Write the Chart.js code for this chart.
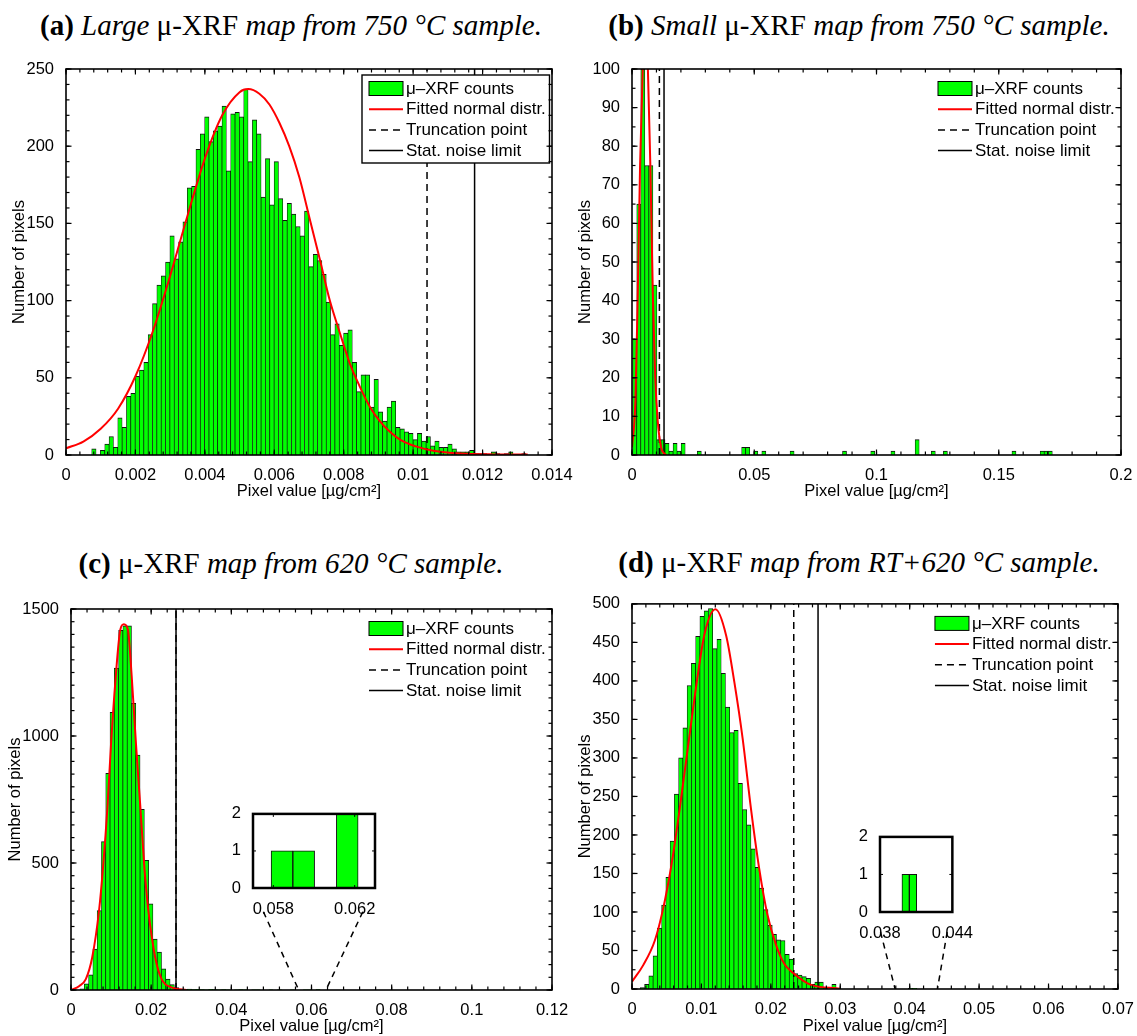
<!DOCTYPE html>
<html>
<head>
<meta charset="utf-8">
<script src="https://cdn.jsdelivr.net/npm/chart.js@4.4.1/dist/chart.umd.min.js"></script>
<style>
  body { margin: 0; background: #fff; }
  #fig { position: relative; width: 1137px; height: 1036px; overflow: hidden; background: #fff; }
  #fig canvas { position: absolute; }
  .ttl { position: absolute; width: 600px; text-align: center; white-space: nowrap; color: #000;
         font: 29px/29px "Liberation Serif", "Times New Roman", serif; }
</style>
</head>
<body>
<div id="fig">
  <div class="ttl" style="left:-9px;top:10.7px"><b>(a)</b> <i>Large</i> μ-XRF <i>map from 750 °C sample.</i></div>
  <div class="ttl" style="left:559px;top:10.7px"><b>(b)</b> <i>Small</i> μ-XRF <i>map from 750 °C sample.</i></div>
  <div class="ttl" style="left:-9px;top:548.7px"><b>(c)</b> μ-XRF <i>map from 620 °C sample.</i></div>
  <div class="ttl" style="left:559px;top:547.7px"><b>(d)</b> μ-XRF <i>map from RT+620 °C sample.</i></div>

  <canvas id="cA" width="585" height="450" style="left:0;top:55px"></canvas>
  <canvas id="cB" width="567" height="450" style="left:570px;top:55px"></canvas>
  <canvas id="cC" width="585" height="441" style="left:0;top:595px"></canvas>
  <canvas id="cD" width="567" height="446" style="left:570px;top:590px"></canvas>
  <canvas id="cCi" width="165" height="120" style="left:225px;top:800px"></canvas>
  <canvas id="cDi" width="125" height="120" style="left:852px;top:823px"></canvas>
</div>

<script>
// ── labels ──────────────────────────────────────────────────────────────────
const LEGEND = ['μ–XRF counts', 'Fitted normal distr.', 'Truncation point', 'Stat. noise limit'];
const X_TITLE = 'Pixel value [µg/cm²]';
const Y_TITLE = 'Number of pixels';

// ── (a) large map, 750 °C ───────────────────────────────────────────────────
const aBins = [0.000741, 0.0001251];          // first bin edge, bin width
const aCounts = [
  4, 0, 3, 7, 12, 5, 24, 18, 38, 40,
  51, 55, 60, 78, 98, 110, 116, 125, 142, 127,
  138, 151, 173, 174, 198, 208, 219, 203, 210, 213,
  226, 184, 221, 222, 219, 237, 190, 217, 208, 167,
  192, 162, 190, 166, 152, 163, 156, 148, 142, 158,
  122, 130, 126, 117, 99, 78, 85, 71, 79, 81,
  60, 41, 52, 52, 31, 49, 28, 22, 31, 35,
  18, 17, 15, 14, 10, 14, 9, 12, 6, 9,
  5, 5, 7, 4, 2, 2, 2, 3, 1, 1,
  1, 0, 2, 1, 0, 1, 2, 0, 0, 1
];
const aFitX = [0, 0.0005, 0.001, 0.0015, 0.002, 0.0025, 0.003, 0.0035, 0.004, 0.0045, 0.005, 0.00525,
  0.00557, 0.00586, 0.00615, 0.00643, 0.00672, 0.00703, 0.00732, 0.0076, 0.00789, 0.00818, 0.00847,
  0.00876, 0.00904, 0.00933, 0.00962, 0.0101, 0.01058, 0.01135, 0.01232, 0.0133];
const aFitY = [4.3, 8.7, 17, 30, 51, 80, 116, 155, 192, 220, 235, 237,
  234, 227, 215, 200, 180, 152, 126, 100, 79, 59, 44,
  31, 22, 15, 10, 5.4, 2.8, 1, 0.4, 0.3];
const aCut = [0.0104, 0.01177];                // truncation point, stat. noise limit
const aX = [0, 0.014, 0.002, 0.0004];          // min, max, major step, minor step
const aY = [0, 250, 50, 10];

// ── (b) small map, 750 °C ───────────────────────────────────────────────────
const bBins = [0.0003, 0.00165];
const bCounts = [
  30, 65, 100, 75, 75, 44, 4, 4, 3, 1,
  3, 1, 3, 0, 0, 0, 1, 0, 0, 0,
  0, 0, 0, 0, 0, 0, 0, 2, 2, 0,
  1, 0, 1, 0, 0, 0, 0, 0, 0, 1,
  0, 0, 0, 0, 0, 0, 0, 0, 0, 0,
  0, 0, 1, 0, 0, 0, 0, 0, 0, 1,
  0, 0, 0, 0, 1, 0, 0, 0, 0, 0,
  4, 0, 0, 0, 1, 0, 0, 1, 0, 0,
  0, 0, 0, 0, 0, 0, 0, 0, 0, 0,
  0, 0, 0, 0, 1, 0, 0, 0, 0, 0,
  0, 1, 1, 1
];
const bFitX = [0, 0.0014, 0.0023, 0.0033, 0.0044, 0.0055, 0.0065, 0.0075, 0.0085, 0.0095, 0.0105, 0.0119, 0.0139];
const bFitY = [2, 14, 40, 75, 100, 108, 100, 75, 42, 20, 9, 2, 0];
const bCut = [0.0112, 0.0131];
const bX = [0, 0.2, 0.05, 0.01];
const bY = [0, 100, 10, 5];

// ── (c) 620 °C ──────────────────────────────────────────────────────────────
const cBins = [0.00225, 0.00107];
const cCounts = [
  5, 24, 60, 161, 313, 584, 853, 1093, 1267, 1416,
  1434, 1434, 1129, 925, 711, 511, 339, 200, 149, 83,
  43, 21, 10, 4, 3, 4, 2, 3, 2, 1,
  3, 2, 1, 2, 1, 0, 1, 2, 1, 0,
  1, 1, 0, 0, 1, 0, 1, 0, 0, 1,
  0, 0, 1, 1, 0, 2
];
const cFitX = [0, 0.002, 0.0037, 0.0053, 0.007, 0.008, 0.0091, 0.01, 0.0111, 0.0123, 0.0132,
  0.0142, 0.0152, 0.0162, 0.0173, 0.0183, 0.0193, 0.021, 0.0226, 0.0251, 0.0288];
const cFitY = [0, 15, 43, 129, 313, 484, 721, 971, 1221, 1418, 1440,
  1418, 1221, 971, 721, 484, 313, 129, 43, 10, 0];
const cCut = [0.0262, 0.0262];
const cX = [0, 0.12, 0.02, 0.004];
const cY = [0, 1500, 500, 50];
const cInsetX = [0.057, 0.063];
const cInsetTicks = [0.058, 0.062];
const cLinkTop = [0.048, 0.0728], cLinkBottom = [0.0568, 0.0636], cLinkY = 308;

// ── (d) RT+620 °C ───────────────────────────────────────────────────────────
const dBins = [0.0012, 0.000613];
const dCounts = [
  2, 6, 17, 43, 79, 109, 145, 192, 253, 300,
  339, 394, 423, 458, 484, 491, 494, 442, 454, 410,
  366, 333, 336, 267, 233, 213, 182, 158, 131, 103,
  83, 71, 64, 63, 45, 39, 20, 18, 16, 14,
  6, 9, 9, 1, 0, 6, 1, 0, 0, 0,
  0, 0, 0, 0, 0, 0, 0, 0, 0, 0,
  0, 0, 0, 1, 1
];
const dFitX = [0, 0.00162, 0.00329, 0.00448, 0.00568, 0.00687, 0.00806, 0.00926, 0.01045, 0.01203, 0.01356,
  0.01475, 0.01594, 0.01714, 0.01833, 0.01952, 0.02072, 0.02191, 0.0233, 0.0256, 0.03];
const dFitY = [9.5, 31, 63, 104, 161, 234, 314, 394, 461, 493, 459,
  398, 325, 234, 156, 96, 58, 33, 20, 6, 0.4];
const dCut = [0.0233, 0.0268];
const dX = [0, 0.07, 0.01, 0.002];
const dY = [0, 500, 50, 25];
const dInsetX = [0.038, 0.044];
const dInsetTicks = [0.038, 0.044];
const dLinkTop = [0.0358, 0.0454], dLinkBottom = [0.0379, 0.044], dLinkY = 74;

// ── styling ─────────────────────────────────────────────────────────────────
const GREEN = '#00ff00', EDGE = '#111', RED = '#ff0000';
Chart.defaults.font.family = '"Liberation Sans", Arial, Helvetica, sans-serif';
Chart.defaults.font.size = 16.5;
Chart.defaults.color = '#000';

const fmt = v => String(+(+v).toFixed(6));
const hist = (bins, counts) => counts.map((c, i) => ({ x: bins[0] + (i + 0.5) * bins[1], y: c }));
const pairs = (xs, ys) => xs.map((x, i) => ({ x, y: ys[i] }));
const vline = (x, top) => [{ x, y: 0 }, { x, y: top }];

function drawLegend(chart, boxed) {
  const { ctx, chartArea: a } = chart;
  const R = a.right, T = a.top;
  ctx.save();
  if (boxed) {
    ctx.fillStyle = '#fff';
    ctx.fillRect(R - 190, T + 6, 187.5, 88);
    ctx.strokeStyle = '#000';
    ctx.lineWidth = 1.4;
    ctx.strokeRect(R - 190, T + 6, 187.5, 88);
  }
  chart.data.datasets.filter(d => d.label).forEach((d, i) => {
    const y = T + 19.5 + i * 20.7, x0 = R - 183, x1 = R - 149;
    if (d.type === 'line') {
      ctx.setLineDash(d.borderDash || []);
      ctx.strokeStyle = d.borderColor;
      ctx.lineWidth = d.borderWidth;
      ctx.beginPath(); ctx.moveTo(x0, y); ctx.lineTo(x1, y); ctx.stroke();
      ctx.setLineDash([]);
    } else {
      ctx.fillStyle = d.backgroundColor;
      ctx.fillRect(x0, y - 7, x1 - x0, 14);
      ctx.strokeStyle = '#000'; ctx.lineWidth = 1;
      ctx.strokeRect(x0, y - 7, x1 - x0, 14);
    }
    ctx.fillStyle = '#000';
    ctx.font = '17px "Liberation Sans", Arial, sans-serif';
    ctx.textBaseline = 'middle';
    ctx.fillText(d.label, R - 146, y + 0.5);
  });
  ctx.restore();
}

// box frame with inward ticks on all four sides (MATLAB look) + in-axes legend
const frameTicks = {
  id: 'frameTicks',
  afterDatasetsDraw(chart, args, o) {
    const { ctx, chartArea: a } = chart;
    if (o.legendBox) drawLegend(chart, o.legendBox === 'boxed');
    const sx = chart.scales.x, sy = chart.scales.y;
    ctx.save();
    ctx.strokeStyle = '#000';
    ctx.lineWidth = o.tickWidth;
    const seg = (x1, y1, x2, y2) => { ctx.beginPath(); ctx.moveTo(x1, y1); ctx.lineTo(x2, y2); ctx.stroke(); };
    const steps = (s, step) => {
      const n = Math.round((s.max - s.min) / step);
      return Array.from({ length: n + 1 }, (_, i) => s.getPixelForValue(s.min + i * step));
    };
    const onX = (px, len) => px.forEach(x => { seg(x, a.bottom, x, a.bottom - len); seg(x, a.top, x, a.top + len); });
    const onY = (py, len) => py.forEach(y => { seg(a.left, y, a.left + len, y); seg(a.right, y, a.right - len, y); });
    if (o.xMinor) onX(steps(sx, o.xMinor), o.minorLen);
    if (o.yMinor) onY(steps(sy, o.yMinor), o.minorLen);
    onX(sx.ticks.map(t => sx.getPixelForValue(t.value)), o.majorLen);
    onY(sy.ticks.map(t => sy.getPixelForValue(t.value)), o.majorLen);
    ctx.lineWidth = o.frameWidth;
    ctx.strokeRect(a.left, a.top, a.right - a.left, a.bottom - a.top);
    ctx.restore();
  }
};

function mainChart(p) {
  const links = (p.links || []).map(l => ({
    type: 'line', data: l, borderColor: '#000', borderWidth: 1.5, borderDash: [6, 5], pointRadius: 0, order: 4
  }));
  return new Chart(document.getElementById(p.id), {
    type: 'bar',
    data: {
      datasets: [
        { label: LEGEND[0], data: hist(p.bins, p.counts), backgroundColor: GREEN, borderColor: EDGE,
          borderWidth: { top: 1, left: 0.7, right: 0.7, bottom: 0 }, barPercentage: 1, categoryPercentage: 1, order: 10 },
        { type: 'line', label: LEGEND[1], data: pairs(p.fitX, p.fitY), borderColor: RED, borderWidth: 2,
          pointRadius: 0, cubicInterpolationMode: 'monotone', order: 1 },
        { type: 'line', label: LEGEND[2], data: vline(p.cut[0], p.y[1]), borderColor: '#000', borderWidth: 1.5,
          borderDash: [7, 5], pointRadius: 0, order: 3 },
        { type: 'line', label: LEGEND[3], data: vline(p.cut[1], p.y[1]), borderColor: '#000', borderWidth: 1.5,
          pointRadius: 0, order: 2 },
        ...links
      ]
    },
    options: {
      responsive: false, devicePixelRatio: 1, animation: false, events: [],
      layout: { padding: { top: p.pad[0], right: p.pad[1], bottom: 0, left: 0 } },
      plugins: {
        legend: { display: false }, tooltip: { enabled: false },
        frameTicks: { xMinor: p.x[3], yMinor: p.y[3], majorLen: 5.5, minorLen: 3.5, tickWidth: 1.2,
                      frameWidth: 1.6, legendBox: p.boxed ? 'boxed' : 'plain' }
      },
      scales: {
        x: { type: 'linear', min: p.x[0], max: p.x[1], offset: false,
             grid: { display: false }, border: { display: false },
             ticks: { stepSize: p.x[2], autoSkip: false, maxRotation: 0, padding: 3, callback: fmt },
             title: { display: true, text: X_TITLE, padding: { top: 0, bottom: p.tpad[1] } },
             afterFit: s => { s.height = p.axis[1]; } },
        y: { type: 'linear', min: p.y[0], max: p.y[1],
             grid: { display: false }, border: { display: false },
             ticks: { stepSize: p.y[2], padding: 4, maxTicksLimit: 20, callback: fmt },
             title: { display: true, text: Y_TITLE, padding: { top: p.tpad[0], bottom: 0 } },
             afterFit: s => { s.width = p.axis[0]; } }
      }
    },
    plugins: [frameTicks]
  });
}

function insetChart(p) {
  return new Chart(document.getElementById(p.id), {
    type: 'bar',
    data: {
      datasets: [{ data: hist(p.bins, p.counts), backgroundColor: GREEN, borderColor: EDGE,
        borderWidth: { top: 1, left: 1, right: 1, bottom: 0 }, barPercentage: 1, categoryPercentage: 1 }]
    },
    options: {
      responsive: false, devicePixelRatio: 1, animation: false, events: [],
      layout: { padding: { top: p.pad[0], right: p.pad[1], bottom: 0, left: 0 } },
      plugins: {
        legend: { display: false }, tooltip: { enabled: false },
        frameTicks: { majorLen: 3, tickWidth: 1, frameWidth: 2.5 }
      },
      scales: {
        x: { type: 'linear', min: p.x[0], max: p.x[1], offset: false,
             grid: { display: false }, border: { display: false },
             afterBuildTicks: s => { s.ticks = p.ticks.map(v => ({ value: v })); },
             ticks: { autoSkip: false, maxRotation: 0, padding: 4, callback: fmt },
             afterFit: s => { s.height = p.axis[1]; } },
        y: { type: 'linear', min: 0, max: 2,
             grid: { display: false }, border: { display: false },
             ticks: { stepSize: 1, padding: 4, callback: fmt },
             afterFit: s => { s.width = p.axis[0]; } }
      }
    },
    plugins: [frameTicks]
  });
}

mainChart({ id: 'cA', bins: aBins, counts: aCounts, fitX: aFitX, fitY: aFitY, cut: aCut, x: aX, y: aY,
            axis: [66, 50], pad: [14, 33], tpad: [10, 4], boxed: true });
mainChart({ id: 'cB', bins: bBins, counts: bCounts, fitX: bFitX, fitY: bFitY, cut: bCut, x: bX, y: bY,
            axis: [62, 50], pad: [14, 16], tpad: [6, 4] });
mainChart({ id: 'cC', bins: cBins, counts: cCounts, fitX: cFitX, fitY: cFitY, cut: cCut, x: cX, y: cY,
            axis: [71, 46], pad: [14, 33], tpad: [6, 0],
            links: [0, 1].map(i => [{ x: cLinkTop[i], y: cLinkY }, { x: cLinkBottom[i], y: 0 }]) });
mainChart({ id: 'cD', bins: dBins, counts: dCounts, fitX: dFitX, fitY: dFitY, cut: dCut, x: dX, y: dY,
            axis: [62, 47], pad: [13, 16], tpad: [6, 0],
            links: [0, 1].map(i => [{ x: dLinkTop[i], y: dLinkY }, { x: dLinkBottom[i], y: 0 }]) });

insetChart({ id: 'cCi', bins: cBins, counts: cCounts, x: cInsetX, ticks: cInsetTicks, axis: [28, 32], pad: [12, 15] });
insetChart({ id: 'cDi', bins: dBins, counts: dCounts, x: dInsetX, ticks: dInsetTicks, axis: [28, 31], pad: [12, 20] });
</script>
</body>
</html>
